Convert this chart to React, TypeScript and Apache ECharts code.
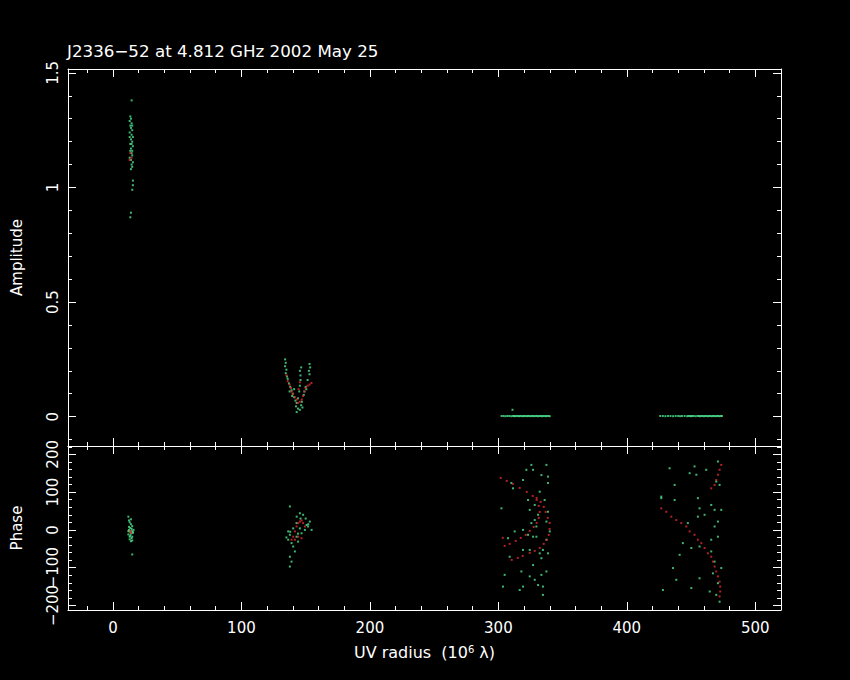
import React, { useEffect, useRef } from 'react';
import * as echarts from 'echarts';

const TITLE = 'J2336−52 at 4.812 GHz 2002 May 25';
const X_MIN = -35;
const X_MAX = 520;
const AMP_MIN = -0.128;
const AMP_MAX = 1.517;
const PHASE_MIN = -212;
const PHASE_MAX = 222;

// Amplitude panel — green points
const ampGreenNear: number[][] = [
  [14.5, 1.38], [13.5, 1.31], [14, 1.3], [13, 1.29], [14.5, 1.28], [13.5, 1.27], [14, 1.26], [15, 1.25],
  [13, 1.24], [14.5, 1.23], [15.5, 1.22], [14, 1.21], [15, 1.2], [14.5, 1.19], [15.5, 1.18], [14, 1.17],
  [13.5, 1.16], [14.5, 1.15], [15, 1.14], [13, 1.13], [14, 1.12], [15.5, 1.11], [14.5, 1.1], [15, 1.09],
  [14, 1.08], [15.5, 1.03], [15, 0.99], [15.5, 1.01], [14, 0.89], [13.5, 0.87], [13, 1.22], [15, 1.16],
  [13.5, 1.19], [15, 1.27],
];
const ampGreenV: number[][] = [
  [134, 0.25], [134.5, 0.235], [134, 0.22], [135, 0.205], [134.5, 0.19], [135.5, 0.175], [136, 0.165],
  [137, 0.145], [138, 0.13], [139, 0.115], [140, 0.1], [141, 0.085], [142, 0.07], [143, 0.06], [142.5, 0.045],
  [144, 0.035], [145.5, 0.03], [146.5, 0.05], [147, 0.065], [144, 0.08], [145, 0.11], [145.5, 0.135],
  [146, 0.16], [146, 0.18], [145.5, 0.2], [146.5, 0.215], [153, 0.23], [153.5, 0.215], [152.5, 0.2],
  [153, 0.185], [151.5, 0.16], [150, 0.13], [149, 0.11], [148.5, 0.095], [141, 0.12], [139.5, 0.09],
  [143, 0.02], [147.5, 0.04], [150.5, 0.12], [137.5, 0.11],
];
const ampGreenFlat3: number[][] = [
  [302.5, 0.003], [304, 0.003], [305.5, 0.002], [307, 0.003], [308.5, 0.003], [310, 0.002], [311, 0.03],
  [311.5, 0.003], [312, 0.003], [313, 0.002], [314, 0.003], [315, 0.003], [316, 0.002], [317, 0.003],
  [318, 0.003], [319, 0.002], [320, 0.003], [321, 0.003], [322, 0.002], [323, 0.003], [324, 0.003],
  [325, 0.002], [326, 0.003], [327, 0.003], [328, 0.002], [329, 0.003], [330, 0.003], [331, 0.002],
  [332, 0.003], [333, 0.003], [334, 0.002], [335, 0.003], [336, 0.003], [337, 0.002], [338, 0.003],
  [339, 0.003], [340, 0.002],
];
const ampGreenFlat4: number[][] = [
  [426, 0.003], [428, 0.003], [430, 0.002], [432, 0.003], [434, 0.003], [436, 0.002], [438, 0.003],
  [440, 0.003], [441.5, 0.002], [443, 0.003], [445, 0.003], [447, 0.002], [448, 0.003], [449, 0.003],
  [450, 0.002], [451, 0.003], [452, 0.003], [453.5, 0.002], [455, 0.003], [456, 0.003], [457, 0.002],
  [458, 0.003], [459, 0.003], [460, 0.002], [461, 0.003], [462, 0.003], [463, 0.002], [464, 0.003],
  [465, 0.003], [466, 0.002], [467, 0.003], [468, 0.003], [469, 0.002], [470, 0.003], [471, 0.003],
  [472, 0.002], [473, 0.003], [474, 0.003],
];

// Amplitude panel — red points
const ampRedNear: number[][] = [[13.5, 1.15], [14.5, 1.13], [13, 1.12]];
const ampRedV: number[][] = [
  [135, 0.18], [136, 0.155], [137.5, 0.14], [138.5, 0.125], [140, 0.1], [141.5, 0.085], [143, 0.075],
  [144, 0.06], [145.5, 0.065], [147, 0.075], [148, 0.09], [149, 0.11], [150, 0.125], [151.5, 0.135],
  [153, 0.14], [154.5, 0.147], [145.5, 0.15], [144.5, 0.12], [139, 0.11],
];

// Phase panel — green points
const phaseGreenNear: number[][] = [
  [12, 35], [12.5, 25], [13, 20], [14, 15], [15, 10], [13.5, 5], [12.5, 0], [14.5, -2], [13, -5], [15.5, -8],
  [14, -10], [12, -12], [13.5, -15], [15, -18], [14.5, -22], [13, -25], [14, -30], [15.5, -5], [12.5, 8],
  [15, -65], [16, 0], [14, 28], [13, -18], [14.5, 3], [12, -3], [15, -28],
];
const phaseGreenMid: number[][] = [
  [137.7, 62], [145.5, 44], [148, 40], [153.2, 22], [151.9, 9], [154.6, 0], [142.9, 18], [136.4, -4],
  [137.7, -13], [136.4, -26], [139, -35], [140.3, -44], [141.6, -57], [137.7, -71], [139, -84], [137.7, -97],
  [142.9, -18], [144.1, -31], [146.8, -9], [149.4, 0], [150.7, 13], [145.5, 4], [140.3, 4], [135, -20],
  [138, -5], [143, 35], [146, 30], [150, 30], [152, 15], [144, -10],
];
const phaseGreenFar3: number[][] = [
  [311.4, 110], [319.2, 132], [325.7, 172], [337.4, 172], [333.5, 145], [338.6, 124], [338.6, 141],
  [327, 159], [321.8, 159], [323.1, 79], [328.3, 66], [330.9, 40], [328.3, 26], [325.7, 18], [329.6, 9],
  [337.4, -26], [334.7, -53], [332.2, -62], [324.4, -53], [319.2, -53], [308.8, -71], [304.9, -119],
  [317.9, -110], [327, -93], [333.5, -119], [337.4, -110], [334.7, -150], [330.9, -146], [316.6, -159],
  [334.7, -172], [312.7, -4], [319.2, 0], [323.1, -13], [327, -18], [340, -4], [310.1, 124], [307.5, -22],
  [303.6, -150], [302.4, 57], [338.6, 48], [337.4, 22], [336, 79], [332.2, 101], [324.4, 53], [329.6, -18],
  [333.5, -75], [338.6, -62], [324.4, -123], [328.3, -132], [319.2, -150],
];
const phaseGreenFar4: number[][] = [
  [433.3, 163], [452.7, 168], [461.8, 159], [448.9, 150], [454.1, 146], [470.9, 181], [469.6, 128],
  [472.2, 119], [437.2, 119], [426.8, 84], [437.2, 79], [455.3, 84], [456.6, 57], [465.7, 66], [468.3, 53],
  [473.5, 53], [460.5, 40], [455.3, 35], [470.9, 22], [468.3, 9], [447.5, 18], [470.9, -18], [465.7, -26],
  [443.6, -35], [450.2, -48], [456.6, -44], [441.1, -66], [465.7, -57], [468.3, -84], [473.5, -101],
  [467, -115], [435.9, -101], [456.6, -128], [438.5, -132], [470.9, -141], [450.2, -154], [428.1, -159],
  [464.5, -163], [469.6, -172], [472.2, -190], [426.8, 88],
];

// Phase panel — red points
const phaseRedNear: number[][] = [[13.5, -3], [14, -8]];
const phaseRedMid: number[][] = [
  [139, -26], [140.3, -18], [141.6, -4], [142.9, 9], [144.1, 18], [145.5, 22], [146.8, 25], [141.6, -26],
  [144.1, -18], [146.8, -22], [148, 18], [149.4, 9],
];
const phaseRedFar3: number[][] = [
  [301.8, 137.6], [306.5, 129.6], [311.2, 121.7], [316.6, 111.1], [322.1, 100.5], [326.7, 89.9],
  [329.8, 84.7], [332.9, 74.1], [335.3, 60.8], [336.8, 47.6], [338.4, 31.7], [339.9, 18.5], [339.9, 2.6],
  [339.2, -13.2], [337.6, -26.5], [335.3, -37], [332.2, -47.6], [328.3, -55.6], [324.4, -60.8],
  [318.9, -68.8], [315.1, -74.1], [310.4, -79.4],
  [329.8, 79.4], [331.4, 63.5], [332.2, 47.6], [331.4, 31.7], [329.8, 18.5], [327.5, 7.9], [324.4, -2.6],
  [321.3, -13.2], [317.4, -21.2], [313.5, -29.1], [308.8, -37], [304.9, -42.3], [303.4, -21],
];
const phaseRedFar4: number[][] = [
  [426.8, 57], [430.7, 48], [434.6, 35], [438.5, 26], [442.4, 18], [446.3, 9], [448.9, -4], [452.7, -13],
  [455.3, -26], [458, -35], [460.5, -48], [463.1, -62], [465.7, -71], [467, -84], [468.3, -97],
  [469.6, -110], [470.9, -123], [472.2, -137], [472.7, -150], [472.7, -163], [472.2, -176],
  [473.5, 172], [472.2, 159], [470.9, 146], [469.6, 132], [468.3, 119], [465.7, 110],
];

const WHITE = '#ffffff';
const GREEN = '#4ee38f';
const RED = '#e02a2a';
const FONT = 'DejaVu Sans';

const baseAxis = () => ({
  type: 'value' as const,
  axisLine: { show: true, onZero: false, lineStyle: { color: WHITE, width: 1 } },
  axisTick: { show: true, inside: true, length: 8, lineStyle: { color: WHITE, width: 1 } },
  minorTick: { show: true, splitNumber: 5, length: 4, lineStyle: { color: WHITE, width: 1 } },
  splitLine: { show: false },
  minorSplitLine: { show: false },
  axisLabel: { show: false },
});

const xAxisFor = (gridIndex: number, position: string, extra: any = {}) => ({
  ...baseAxis(),
  gridIndex,
  position,
  min: X_MIN,
  max: X_MAX,
  minInterval: 100,
  maxInterval: 100,
  ...extra,
});

const ampAxis = (position: string, extra: any = {}) => ({
  ...baseAxis(),
  gridIndex: 0,
  position,
  min: AMP_MIN,
  max: AMP_MAX,
  minInterval: 0.5,
  maxInterval: 0.5,
  ...extra,
});

const phaseAxis = (position: string, extra: any = {}) => ({
  ...baseAxis(),
  gridIndex: 1,
  position,
  min: PHASE_MIN,
  max: PHASE_MAX,
  minInterval: 100,
  maxInterval: 100,
  ...extra,
});

const yLabel = (formatter?: (v: number) => string) => ({
  show: true,
  color: WHITE,
  fontFamily: FONT,
  fontSize: 15,
  rotate: 90,
  margin: 8,
  showMinLabel: false,
  showMaxLabel: false,
  formatter,
});

const scatter = (name: string, data: number[][], color: string, xi: number, yi: number) => ({
  name,
  type: 'scatter',
  xAxisIndex: xi,
  yAxisIndex: yi,
  data,
  symbol: 'rect',
  symbolSize: 2,
  itemStyle: { color },
  silent: true,
  emphasis: { disabled: true },
});

export default function App() {
  const ref = useRef<HTMLDivElement>(null);
  useEffect(() => {
    if (!ref.current) return;
    const chart = echarts.init(ref.current, null, { renderer: 'svg' });
    chart.setOption({
      animation: false,
      backgroundColor: '#000000',
      title: {
        text: TITLE,
        left: 67,
        top: 42,
        padding: 0,
        textStyle: { color: WHITE, fontSize: 16.7, fontWeight: 'normal', fontFamily: FONT },
      },
      grid: [
        { left: 68, top: 69, width: 713, height: 377 },
        { left: 68, top: 446, width: 713, height: 164 },
      ],
      xAxis: [
        xAxisFor(0, 'bottom'),
        xAxisFor(0, 'top'),
        xAxisFor(1, 'top'),
        xAxisFor(1, 'bottom', {
          axisLabel: {
            show: true,
            color: WHITE,
            fontFamily: FONT,
            fontSize: 15,
            margin: 10,
            showMinLabel: false,
            showMaxLabel: false,
          },
          name: '{a|UV radius  (10}{s|6}{a| λ)}',
          nameLocation: 'middle',
          nameGap: 34,
          nameTextStyle: {
            color: WHITE,
            fontFamily: FONT,
            rich: {
              a: { color: WHITE, fontFamily: FONT, fontSize: 16 },
              s: { color: WHITE, fontFamily: FONT, fontSize: 10, verticalAlign: 'top', padding: [0, 0, 6, 0] },
            },
          },
        }),
      ],
      yAxis: [
        ampAxis('left', {
          axisLabel: yLabel(),
          name: 'Amplitude',
          nameLocation: 'middle',
          nameGap: 44,
          nameRotate: 90,
          nameTextStyle: { color: WHITE, fontFamily: FONT, fontSize: 15 },
        }),
        ampAxis('right'),
        phaseAxis('left', {
          axisLabel: yLabel((v: number) => String(v).replace('-', '\u2212')),
          name: 'Phase',
          nameLocation: 'middle',
          nameGap: 44,
          nameRotate: 90,
          nameTextStyle: { color: WHITE, fontFamily: FONT, fontSize: 15 },
        }),
        phaseAxis('right'),
      ],
      series: [
        scatter('amp-green-near', ampGreenNear, GREEN, 0, 0),
        scatter('amp-green-v', ampGreenV, GREEN, 0, 0),
        scatter('amp-green-flat3', ampGreenFlat3, GREEN, 0, 0),
        scatter('amp-green-flat4', ampGreenFlat4, GREEN, 0, 0),
        scatter('amp-red-near', ampRedNear, RED, 0, 0),
        scatter('amp-red-v', ampRedV, RED, 0, 0),
        scatter('phase-green-near', phaseGreenNear, GREEN, 3, 2),
        scatter('phase-green-mid', phaseGreenMid, GREEN, 3, 2),
        scatter('phase-green-far3', phaseGreenFar3, GREEN, 3, 2),
        scatter('phase-green-far4', phaseGreenFar4, GREEN, 3, 2),
        scatter('phase-red-near', phaseRedNear, RED, 3, 2),
        scatter('phase-red-mid', phaseRedMid, RED, 3, 2),
        scatter('phase-red-far3', phaseRedFar3, RED, 3, 2),
        scatter('phase-red-far4', phaseRedFar4, RED, 3, 2),
      ],
    });
    return () => chart.dispose();
  }, []);
  return (
    <div
      ref={ref}
      style={{ position: 'fixed', left: 0, top: 0, width: 850, height: 680, background: '#000' }}
    />
  );
}
